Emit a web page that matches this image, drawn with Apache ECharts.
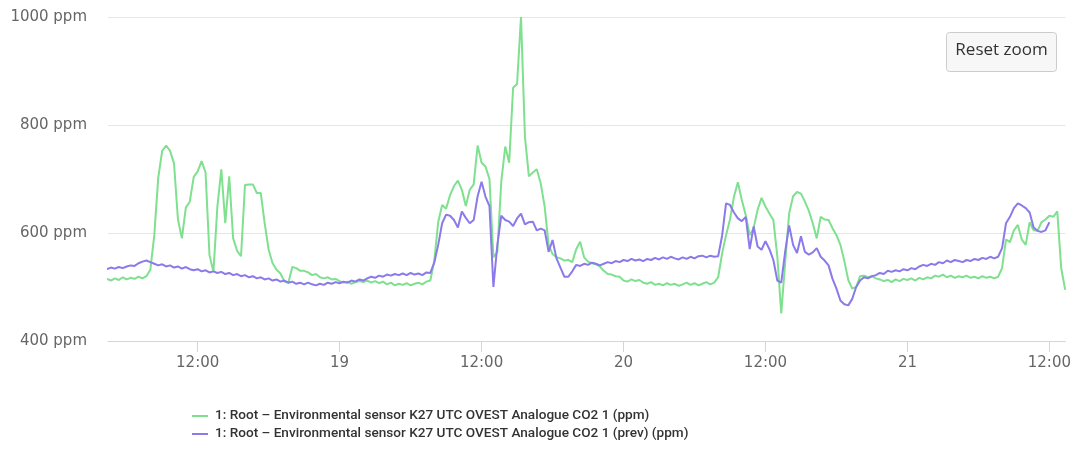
<!DOCTYPE html>
<html>
<head>
<meta charset="utf-8">
<script src="https://cdn.jsdelivr.net/npm/echarts@6/dist/echarts.min.js"></script>
<style>
  html, body { margin: 0; padding: 0; background: #ffffff; }
  #chart { width: 1074px; height: 450px; }
</style>
</head>
<body>
<div id="chart"></div>
<script>
// CO2 readings, one sample every 20 minutes, starting on day 18 at 04:20
const firstDay = 18;
const sampleStartHour = 4 + 20 / 60;
const sampleMinutes = 20;

const seriesNames = [
  '1: Root – Environmental sensor K27 UTC OVEST Analogue CO2 1 (ppm)',
  '1: Root – Environmental sensor K27 UTC OVEST Analogue CO2 1 (prev) (ppm)'
];

const co2Current = [
  515,512,516,513,518,514,517,515,519,516,
  520,532,596,702,752,762,752,729,625,590,
  647,658,704,714,733,712,559,528,649,718,
  618,705,590,567,557,689,690,690,674,674,
  618,569,544,532,525,510,508,537,535,530,
  530,527,522,524,518,516,518,514,515,511,
  508,510,506,509,511,509,512,508,511,507,
  510,505,508,503,506,504,507,503,506,508,
  505,510,512,548,620,652,645,670,687,697,
  680,650,680,690,762,730,723,700,555,565,
  695,760,730,869,876,1000,778,705,712,718,
  692,649,578,561,555,553,549,550,546,570,
  584,555,547,544,542,538,530,524,523,520,
  519,512,510,514,511,513,508,506,509,504,
  506,503,507,504,506,502,505,508,504,507,
  503,506,509,505,508,518,562,596,625,667,
  694,661,633,596,609,643,665,649,636,624,
  557,451,546,636,668,676,673,658,641,618,
  590,630,625,624,609,596,578,548,513,497,
  500,520,521,518,520,516,514,511,513,509,
  514,511,515,513,516,512,517,514,518,516,
  521,519,523,518,521,517,520,518,521,517,
  519,516,520,517,519,516,519,535,588,583,
  605,615,588,578,620,605,604,620,625,632,
  630,640,535,495
];

const co2Previous = [
  533,536,534,537,535,538,540,539,544,547,
  549,546,543,540,542,538,540,536,538,534,
  537,533,531,533,529,531,527,529,526,528,
  524,526,522,524,520,522,518,520,516,518,
  514,516,512,514,510,512,508,510,506,508,
  505,508,505,503,506,504,508,506,509,507,
  510,508,512,510,514,512,516,519,517,521,
  519,523,521,524,522,525,522,526,523,525,
  522,527,526,545,578,618,634,632,624,610,
  640,628,618,624,668,695,667,650,500,578,
  632,624,621,613,627,636,616,620,621,605,
  608,605,565,587,553,536,519,519,529,541,
  539,543,541,545,543,540,543,546,544,548,
  546,550,548,552,549,551,548,552,550,554,
  551,555,552,556,553,551,555,552,556,553,
  557,558,555,558,556,557,595,655,652,638,
  627,622,630,570,612,575,569,585,570,550,
  512,508,566,614,578,563,594,565,560,564,
  572,556,549,540,515,497,475,468,466,478,
  500,512,518,516,520,522,526,524,530,528,
  531,529,533,531,535,533,538,541,539,543,
  541,546,544,549,546,550,548,546,550,548,
  552,550,554,552,556,553,556,572,618,630,
  646,655,651,646,638,610,604,602,605,620,
  null,null,null,null
];

// Hours counted from midnight of the first day
const xTickHours = [12, 24, 36, 48, 60, 72, 84];
const yTicks = [400, 600, 800, 1000];
const viewStartHour = 4.42;
const viewEndHour = 85.35;

const lineColors = ['#7fe08f', '#8a7aea'];

function toPoints(values) {
  return values.map((v, i) => [sampleStartHour + i * sampleMinutes / 60, v]);
}

function hourLabel(h) {
  if (h % 24 === 0) return String(firstDay + h / 24);
  const hh = h % 24;
  return (hh < 10 ? '0' : '') + hh + ':00';
}

const chart = echarts.init(document.getElementById('chart'), null, { renderer: 'canvas' });

chart.setOption({
  animation: false,
  backgroundColor: '#ffffff',
  grid: { left: 108, right: 5, top: 17, bottom: 109, containLabel: false },
  xAxis: {
    type: 'value',
    min: viewStartHour,
    max: viewEndHour,
    axisLine: { show: true, lineStyle: { color: '#ccd6eb', width: 1 } },
    axisTick: {
      show: true, length: 11, customValues: xTickHours,
      lineStyle: { color: '#ccd6eb', width: 1 }
    },
    axisLabel: {
      customValues: xTickHours,
      formatter: hourLabel,
      color: '#666666',
      fontFamily: 'DejaVu Sans',
      fontSize: 15,
      margin: 15
    },
    splitLine: { show: false }
  },
  yAxis: {
    type: 'value',
    min: yTicks[0],
    max: yTicks[yTicks.length - 1],
    interval: 200,
    axisLine: { show: false },
    axisTick: { show: false },
    axisLabel: {
      formatter: (v) => v + ' ppm',
      color: '#666666',
      fontFamily: 'DejaVu Sans',
      fontSize: 15,
      margin: 21
    },
    splitLine: { lineStyle: { color: '#e6e6e6', width: 1 } }
  },
  legend: {
    orient: 'vertical',
    left: 192,
    top: 409,
    padding: 0,
    itemGap: 4,
    itemWidth: 16,
    itemHeight: 2,
    icon: 'rect',
    textStyle: {
      color: '#333333',
      fontFamily: 'Roboto',
      fontWeight: 500,
      fontSize: 13.6,
      padding: [0, 0, 0, 2]
    },
    data: seriesNames
  },
  graphic: [{
    type: 'group',
    left: 946,
    top: 32,
    children: [{
      type: 'rect',
      shape: { x: 0, y: 0, width: 110, height: 39, r: 3 },
      style: { fill: '#f7f7f7', stroke: '#cccccc', lineWidth: 1 }
    }, {
      type: 'text',
      x: 55,
      y: 18,
      style: {
        text: 'Reset zoom',
        fill: '#333333',
        font: '17px "Open Sans"',
        align: 'center',
        verticalAlign: 'middle'
      }
    }]
  }],
  series: [{
    name: seriesNames[0],
    type: 'line',
    data: toPoints(co2Current),
    showSymbol: false,
    color: lineColors[0],
    lineStyle: { width: 2, color: lineColors[0] }
  }, {
    name: seriesNames[1],
    type: 'line',
    data: toPoints(co2Previous),
    showSymbol: false,
    color: lineColors[1],
    lineStyle: { width: 2, color: lineColors[1] }
  }]
});
</script>
</body>
</html>
